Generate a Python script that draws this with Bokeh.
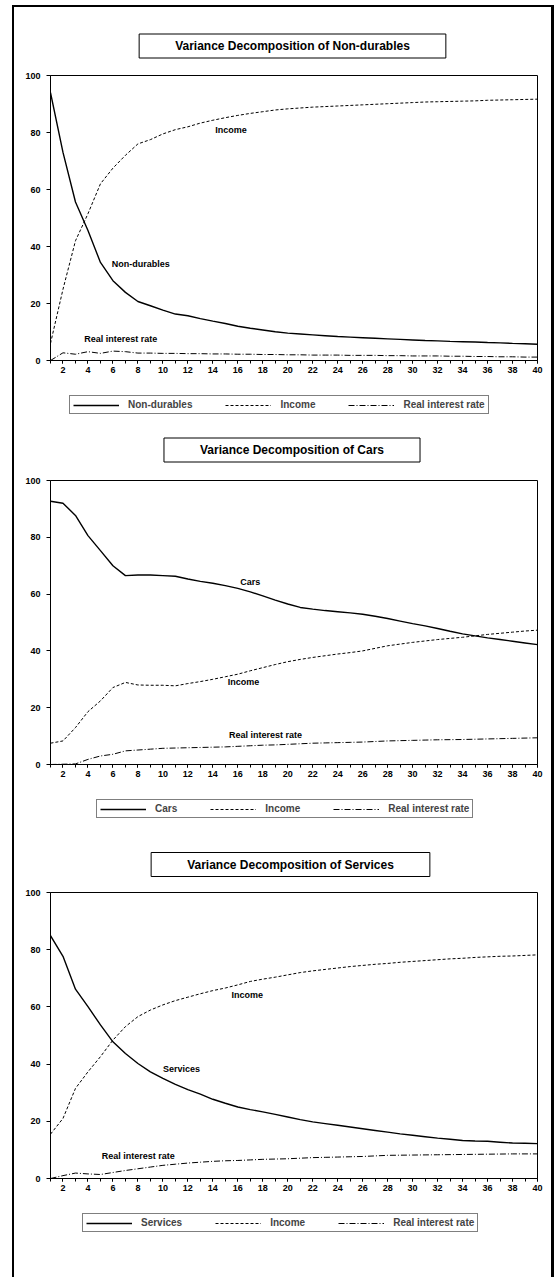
from bokeh.plotting import figure
from bokeh.models import Legend, LegendItem, Label, FixedTicker, Range1d
from bokeh.layouts import column
from bokeh.embed import file_html
from bokeh.resources import INLINE

# ---------------- data ----------------
horizon = list(range(1, 41))
x_tick_labels = list(range(2, 41, 2))
y_ticks = [0, 20, 40, 60, 80, 100]

nd_titles = "Variance Decomposition of Non-durables"
nd_own = [94.0, 73.0, 55.6, 45.6, 34.4, 28.0, 23.9, 20.7, 19.2, 17.7,
          16.3, 15.7, 14.7, 13.8, 13.0, 12.0, 11.3, 10.7, 10.1, 9.6,
          9.3, 9.0, 8.7, 8.4, 8.2, 8.0, 7.8, 7.6, 7.4, 7.2,
          7.0, 6.9, 6.7, 6.6, 6.5, 6.3, 6.2, 6.0, 5.9, 5.7]
nd_income = [6.0, 25.0, 42.0, 51.5, 62.0, 67.5, 72.0, 76.0, 77.5, 79.5,
             81.0, 82.0, 83.3, 84.3, 85.2, 86.0, 86.7, 87.3, 87.9, 88.3,
             88.6, 88.9, 89.1, 89.3, 89.5, 89.7, 89.9, 90.1, 90.3, 90.5,
             90.7, 90.8, 90.9, 91.0, 91.1, 91.3, 91.4, 91.5, 91.6, 91.7]
nd_rate = [0.0, 2.7, 2.2, 3.1, 2.5, 3.3, 3.1, 2.6, 2.6, 2.5,
           2.5, 2.4, 2.4, 2.3, 2.3, 2.2, 2.2, 2.1, 2.1, 2.0,
           2.0, 1.9, 1.9, 1.9, 1.8, 1.8, 1.8, 1.7, 1.7, 1.6,
           1.6, 1.6, 1.5, 1.5, 1.4, 1.4, 1.3, 1.3, 1.2, 1.2]

cars_title = "Variance Decomposition of Cars"
cars_own = [92.7, 92.0, 87.7, 80.6, 75.3, 70.0, 66.5, 66.7, 66.7, 66.5,
            66.3, 65.3, 64.5, 63.8, 63.0, 62.0, 60.8, 59.4, 57.9, 56.5,
            55.3, 54.7, 54.2, 53.8, 53.4, 52.9, 52.2, 51.4, 50.5, 49.6,
            48.8, 47.9, 46.9, 46.0, 45.3, 44.6, 44.0, 43.4, 42.8, 42.2]
cars_income = [7.5, 8.3, 13.0, 18.6, 22.4, 27.1, 28.9, 28.0, 27.9, 27.9,
               27.7, 28.5, 29.2, 30.0, 30.9, 31.8, 33.0, 34.1, 35.2, 36.2,
               37.0, 37.7, 38.3, 38.9, 39.4, 40.0, 40.9, 41.8, 42.4, 43.0,
               43.5, 44.0, 44.4, 44.8, 45.3, 45.8, 46.2, 46.6, 47.0, 47.3]
cars_rate = [0.0, 0.1, 0.2, 1.8, 3.0, 3.6, 4.8, 5.1, 5.4, 5.7,
             5.8, 5.9, 6.0, 6.1, 6.2, 6.4, 6.6, 6.8, 6.9, 7.1,
             7.3, 7.5, 7.6, 7.7, 7.8, 7.9, 8.1, 8.3, 8.4, 8.5,
             8.6, 8.7, 8.75, 8.8, 8.9, 9.0, 9.1, 9.2, 9.3, 9.4]

serv_title = "Variance Decomposition of Services"
serv_own = [84.9, 77.7, 66.2, 60.1, 53.7, 47.8, 43.7, 40.2, 37.3, 35.0,
            32.9, 31.1, 29.5, 27.7, 26.3, 25.0, 24.1, 23.3, 22.4, 21.5,
            20.6, 19.8, 19.2, 18.6, 18.0, 17.4, 16.8, 16.2, 15.6, 15.1,
            14.6, 14.1, 13.7, 13.3, 13.1, 13.0, 12.7, 12.4, 12.3, 12.2]
serv_income = [15.5, 21.0, 31.5, 37.3, 42.6, 48.4, 53.1, 56.6, 58.9, 60.7,
               62.2, 63.4, 64.6, 65.7, 66.6, 67.7, 68.9, 69.7, 70.4, 71.2,
               72.0, 72.6, 73.1, 73.6, 74.1, 74.5, 74.9, 75.2, 75.6, 75.9,
               76.2, 76.5, 76.8, 77.0, 77.3, 77.5, 77.7, 77.8, 78.0, 78.2]
serv_rate = [0.0, 1.0, 1.9, 1.6, 1.4, 2.1, 2.8, 3.4, 4.0, 4.6,
             5.0, 5.4, 5.7, 6.0, 6.2, 6.3, 6.5, 6.7, 6.8, 6.9,
             7.1, 7.3, 7.4, 7.5, 7.6, 7.7, 7.9, 8.1, 8.15, 8.2,
             8.25, 8.3, 8.35, 8.4, 8.45, 8.5, 8.55, 8.6, 8.6, 8.6]

series_names = ["Income", "Real interest rate"]

# inline label positions (x horizon, y value)
nd_labels = [("Income", 14.2, 81.0), ("Non-durables", 5.9, 34.0), ("Real interest rate", 3.7, 7.7)]
cars_labels = [("Cars", 16.2, 64.4), ("Income", 15.2, 28.9), ("Real interest rate", 15.3, 10.3)]
serv_labels = [("Income", 15.5, 64.2), ("Services", 10.0, 38.2), ("Real interest rate", 5.1, 7.7)]

FONT = "Liberation Sans"
WIDTH = 537
LEFT = 36
FRAME_W = 487
OWN_STYLE = dict(line_color="black", line_width=1.4)
INC_STYLE = dict(line_color="black", line_width=1, line_dash="3 2")
RATE_STYLE = dict(line_color="black", line_width=1, line_dash="6 2 1 2")


def blank(height, xr=(0, 1), yr=(0, 1)):
    f = figure(width=WIDTH, height=height, output_backend="svg", toolbar_location=None,
               x_range=Range1d(*xr), y_range=Range1d(*yr), title=None,
               min_border_left=LEFT, min_border_right=WIDTH - LEFT - FRAME_W,
               min_border_top=0, min_border_bottom=0,
               x_axis_location=None, y_axis_location=None)
    f.grid.visible = False
    f.outline_line_color = None
    f.background_fill_color = "white"
    f.border_fill_color = "white"
    return f


def title_fig(title, height, cx, cy):
    f = blank(height)
    f.add_layout(Label(x=cx, y=cy, x_units="screen", y_units="screen",
                       text=title, text_font=FONT, text_font_style="bold", text_font_size="12px",
                       text_align="center", text_baseline="middle", text_color="black",
                       border_line_color="black", border_line_width=1,
                       background_fill_color="white", padding=(36, 5)))
    return f


def chart_fig(own, income, rate, labels, frame_h):
    height = 6 + frame_h + 24
    p = figure(width=WIDTH, height=height, output_backend="svg", toolbar_location=None,
               x_range=Range1d(1, 40), y_range=Range1d(0, 100), title=None,
               min_border_left=LEFT, min_border_right=WIDTH - LEFT - FRAME_W,
               min_border_top=6, min_border_bottom=24)
    p.grid.visible = False
    p.outline_line_color = "black"
    p.outline_line_width = 1
    p.background_fill_color = "white"
    p.border_fill_color = "white"

    p.line(horizon, own, **OWN_STYLE)
    p.line(horizon, income, **INC_STYLE)
    p.line(horizon, rate, **RATE_STYLE)

    xa = p.xaxis[0]
    xa.ticker = FixedTicker(ticks=x_tick_labels, minor_ticks=horizon)
    xa.major_tick_out = 3
    xa.major_tick_in = 0
    xa.minor_tick_out = 3
    xa.minor_tick_in = 0
    xa.major_label_standoff = 3
    ya = p.yaxis[0]
    ya.ticker = FixedTicker(ticks=y_ticks)
    ya.major_tick_out = 4
    ya.major_tick_in = 0
    ya.minor_tick_out = 0
    ya.minor_tick_in = 0
    ya.major_label_standoff = 6
    for ax in (xa, ya):
        ax.axis_line_color = "black"
        ax.major_tick_line_color = "black"
        ax.minor_tick_line_color = "black"
        ax.major_label_text_font = FONT
        ax.major_label_text_font_style = "bold"
        ax.major_label_text_font_size = "9px"
        ax.major_label_text_color = "black"

    for txt, lx, ly in labels:
        p.add_layout(Label(x=lx, y=ly, text=txt, text_font=FONT, text_font_style="bold",
                           text_font_size="9px", text_align="left", text_baseline="middle",
                           text_color="black"))
    return p


def legend_fig(own_name, own, income, rate, height, lx, ly):
    # the series are drawn outside this strip's view; only their legend swatches show
    f = blank(height, xr=(-3, -2), yr=(0, 1))
    r1 = f.line(horizon, own, **OWN_STYLE)
    r2 = f.line(horizon, income, **INC_STYLE)
    r3 = f.line(horizon, rate, **RATE_STYLE)
    legend = Legend(items=[LegendItem(label=own_name, renderers=[r1]),
                           LegendItem(label=series_names[0], renderers=[r2]),
                           LegendItem(label=series_names[1], renderers=[r3])],
                    orientation="horizontal", location=(lx, ly),
                    border_line_color="black", border_line_width=1,
                    background_fill_color="white",
                    label_text_font=FONT, label_text_font_style="bold",
                    label_text_font_size="10px", label_height=10, glyph_height=10,
                    glyph_width=46, label_standoff=9, spacing=33, padding=3, margin=0)
    f.add_layout(legend, "center")
    return f


figs = [
    title_fig(nd_titles, 62, 242, 23.5),
    chart_fig(nd_own, nd_income, nd_rate, nd_labels, 285),
    legend_fig("Non-durables", nd_own, nd_income, nd_rate, 40, 19, 10),
    title_fig(cars_title, 50, 241.5, 24.5),
    chart_fig(cars_own, cars_income, cars_rate, cars_labels, 284),
    legend_fig("Cars", cars_own, cars_income, cars_rate, 50, 46, 20),
    title_fig(serv_title, 48, 240, 22),
    chart_fig(serv_own, serv_income, serv_rate, serv_labels, 286),
    legend_fig("Services", serv_own, serv_income, serv_rate, 75, 32, 45),
]

layout = column(*figs, spacing=0, margin=(5, 0, 0, 12),
                styles={"border-left": "2px solid black", "border-right": "3px solid black",
                        "border-top": "2px solid black"})

open("out.html", "w").write(file_html(layout, INLINE))
